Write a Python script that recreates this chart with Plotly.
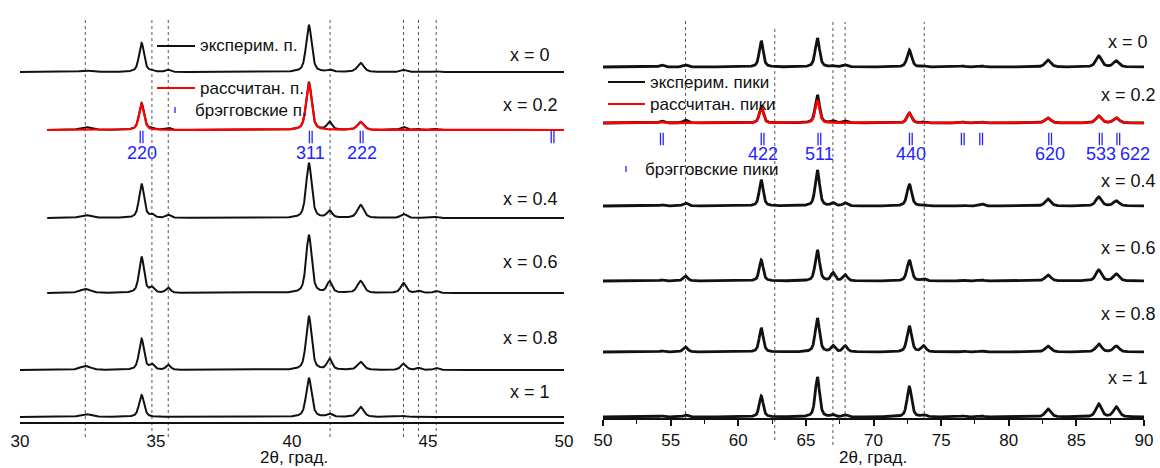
import numpy as np
import plotly.graph_objects as go

# ---------------- data ----------------
compositions = ["x = 0", "x = 0.2", "x = 0.4", "x = 0.6", "x = 0.8", "x = 1"]

# 30–50° range: observed reflections (2θ, deg) and their widths (FWHM, deg)
pos_low = [32.4, 34.47, 34.85, 35.45, 40.62, 41.38, 42.52, 44.1, 44.65, 45.3]
fwhm_low = [0.45, 0.22, 0.2, 0.2, 0.24, 0.22, 0.28, 0.24, 0.2, 0.2]
# peak heights (a.u.) per composition
h_low_x0 = [1.5, 29, 1, 2, 47, 2, 9, 2, 0, 1]
h_low_x02 = [3, 27, 2, 2, 48, 8, 8, 3, 1, 1]
h_low_x04 = [3, 34, 3, 3, 55, 7, 13, 4, 0, 1]
h_low_x06 = [4, 36, 5, 5, 58, 11, 12, 10, 2, 2]
h_low_x08 = [4, 31, 5, 5, 54, 11, 8, 6, 2, 2]
h_low_x1 = [3, 22, 0, 0, 39, 3, 10, 1, 0, 0]
# calculated profile for x = 0.2
h_low_calc = [0, 26, 0, 0, 47, 0, 8, 0, 0, 0]
# scanned interval start per composition (deg)
start_low = [30.0, 31.0, 31.0, 31.0, 30.0, 30.0]

# 50–90° range
pos_high = [54.35, 56.1, 61.7, 65.85, 67.0, 67.9, 72.65, 73.7, 76.6, 78.0, 82.9, 86.65, 87.95]
fwhm_high = [0.4, 0.4, 0.35, 0.38, 0.35, 0.4, 0.4, 0.4, 0.4, 0.4, 0.5, 0.5, 0.5]
h_high_x0 = [2, 2, 26, 29, 1, 2, 17, 1, 1, 1, 7, 11, 6]
h_high_x02 = [2, 3, 16, 28, 2, 2, 10, 1, 1, 1, 5, 7, 5]
h_high_x04 = [1, 3, 26, 36, 3, 3, 22, 1, 1, 2, 7, 9, 5]
h_high_x06 = [1, 5, 21, 31, 8, 6, 21, 2, 1, 1, 6, 11, 7]
h_high_x08 = [1, 5, 24, 34, 6, 6, 26, 6, 1, 1, 6, 8, 6]
h_high_x1 = [1, 2, 21, 40, 2, 2, 30, 2, 1, 1, 8, 13, 10]
h_high_calc = [1, 0, 15, 23, 0, 0, 10, 0, 1, 1, 5, 7, 5]

# Bragg positions and Miller indices
bragg_low = [34.47, 40.69, 42.56, 49.58]
hkl_low = ["220", "311", "222", ""]
bragg_high = [54.35, 61.8, 66.0, 72.76, 76.6, 77.96, 83.06, 86.8, 88.1]
hkl_high = ["", "422", "511", "440", "", "", "620", "533", "622"]

# phase-marker lines (2θ, deg)
marks_low = [32.4, 34.85, 35.45, 41.4, 44.1, 44.65, 45.3]
marks_high = [56.1, 62.7, 67.0, 67.9, 73.75]

heights_low = [h_low_x0, h_low_x02, h_low_x04, h_low_x06, h_low_x08, h_low_x1]
heights_high = [h_high_x0, h_high_x02, h_high_x04, h_high_x06, h_high_x08, h_high_x1]

# ---------------- layout ----------------
W, H = 1160, 468
BLACK, RED, BLUE = "#111111", "#ff0000", "#2424ff"
FONT = "Arial, Liberation Sans, sans-serif"

# stacking offsets (y units of each panel)
offset_low = [350, 292, 204, 129, 52, 5]
offset_high = [351, 295, 212, 137, 66, 1]
label_y_low = [55, 105, 199, 262, 338, 392]      # px from top
label_y_high = [42, 95, 181, 248, 314, 378]


def profile(x, pos, fwhm, heights, eta=0.55):
    y = np.zeros_like(x)
    for p, w, h in zip(pos, fwhm, heights):
        if h == 0:
            continue
        t = (x - p) / (w / 2.0)
        y += h * (eta / (1 + t * t) + (1 - eta) * np.exp(-np.log(2) * t * t))
    return y


def px(xpix):
    return xpix / W


def py(ypix):
    return 1 - ypix / H


def note(x, y, text, size, color=BLACK, xanchor="center", **kw):
    return dict(x=x, y=y, text=text, showarrow=False, xanchor=xanchor, yanchor="middle",
                font=dict(family=FONT, size=size, color=color), **kw)


fig = go.Figure()

# low-angle panel
for i, hs in enumerate(heights_low):
    x = np.arange(start_low[i], 50.0001, 0.01)
    fig.add_trace(go.Scatter(x=x, y=offset_low[i] + profile(x, pos_low, fwhm_low, hs),
                             mode="lines", line=dict(color=BLACK, width=2),
                             xaxis="x", yaxis="y", showlegend=False, hoverinfo="skip"))
    if i == 1:
        fig.add_trace(go.Scatter(x=x, y=offset_low[i] + profile(x, pos_low, fwhm_low, h_low_calc),
                                 mode="lines", line=dict(color=RED, width=2.2),
                                 xaxis="x", yaxis="y", showlegend=False, hoverinfo="skip"))

# high-angle panel
for i, hs in enumerate(heights_high):
    x = np.arange(50.0, 90.0001, 0.02)
    fig.add_trace(go.Scatter(x=x, y=offset_high[i] + profile(x, pos_high, fwhm_high, hs),
                             mode="lines", line=dict(color=BLACK, width=2.8),
                             xaxis="x2", yaxis="y2", showlegend=False, hoverinfo="skip"))
    if i == 1:
        fig.add_trace(go.Scatter(x=x, y=offset_high[i] + profile(x, pos_high, fwhm_high, h_high_calc),
                                 mode="lines", line=dict(color=RED, width=2.4),
                                 xaxis="x2", yaxis="y2", showlegend=False, hoverinfo="skip"))

# Bragg markers (doublets)
tick_y_low, tick_y_high = 285, 279
hkl_y_low, hkl_y_high = 269, 264
for sep, xa, ya, br, ty in [(0.1, "x", "y", bragg_low, tick_y_low),
                            (0.2, "x2", "y2", bragg_high, tick_y_high)]:
    for s in (-sep / 2, sep / 2):
        fig.add_trace(go.Scatter(x=[b + s for b in br], y=[ty] * len(br), mode="markers",
                                 marker=dict(symbol="line-ns", size=9,
                                             line=dict(color=BLUE, width=1.3)),
                                 xaxis=xa, yaxis=ya, showlegend=False, hoverinfo="skip"))

annotations = []
for b, t in zip(bragg_low, hkl_low):
    if t:
        annotations.append(note(b, hkl_y_low, t, 18, BLUE, xref="x", yref="y"))
hkl_shift_high = {"622": 17}
for b, t in zip(bragg_high, hkl_high):
    if t:
        annotations.append(note(b, hkl_y_high, t, 18, BLUE, xref="x2", yref="y2",
                                xshift=hkl_shift_high.get(t, 0)))

# composition labels
for lbl, yl in zip(compositions, label_y_low):
    annotations.append(note(px(530), py(yl), lbl, 18, xref="paper", yref="paper"))
for lbl, yl in zip(compositions, label_y_high):
    annotations.append(note(px(1128), py(yl), lbl, 18, xref="paper", yref="paper"))

# axis titles
for xc in (294, 873):
    annotations.append(note(px(xc), py(457), "2θ, град.", 17, xref="paper", yref="paper"))

# legends
shapes = []
legend_items = [
    # (line x0, line x1, y, colour, text x, text); x0 None -> single tick marker
    (157, 195, 46, BLACK, 198, "эксперим. п."),
    (157, 195, 88, RED, 198, "рассчитан. п."),
    (None, 175, 110, BLUE, 193, "брэгговские п."),
    (608, 645, 82, BLACK, 648, "эксперим. пики"),
    (608, 645, 104, RED, 648, "рассчитан. пики"),
    (None, 626, 169, BLUE, 643, "брэгговские пики"),
]
for x0, x1, yl, col, tx, txt in legend_items:
    if x0 is not None:
        shapes.append(dict(type="line", xref="paper", yref="paper", x0=px(x0), x1=px(x1),
                           y0=py(yl), y1=py(yl), line=dict(color=col, width=2)))
    else:
        shapes.append(dict(type="line", xref="paper", yref="paper", x0=px(x1), x1=px(x1),
                           y0=py(yl - 3), y1=py(yl + 3), line=dict(color=col, width=1.3)))
    annotations.append(note(px(tx), py(yl), txt, 17, xanchor="left", xref="paper", yref="paper"))

# dotted marker lines
for m in marks_low:
    shapes.append(dict(type="line", xref="x", yref="paper", x0=m, x1=m, y0=py(437), y1=py(17),
                       line=dict(color="#555555", width=1, dash="dot"), layer="below"))
high_ext = [(20, 420), (28, 440), (20, 445), (22, 420), (22, 420)]
for m, (t, b) in zip(marks_high, high_ext):
    shapes.append(dict(type="line", xref="x2", yref="paper", x0=m, x1=m, y0=py(b), y1=py(t),
                       line=dict(color="#555555", width=1, dash="dot"), layer="below"))

axis_font = dict(family=FONT, size=17, color=BLACK)
fig.update_layout(
    width=W, height=H, margin=dict(l=0, r=0, t=0, b=0),
    paper_bgcolor="white", plot_bgcolor="white",
    xaxis=dict(domain=[px(20), px(564)], range=[30, 50], anchor="y",
               tickvals=[30, 35, 40, 45, 50], showgrid=False, zeroline=False,
               showline=True, linecolor=BLACK, linewidth=2, automargin=False,
               ticks="outside", ticklen=3, tickcolor="rgba(0,0,0,0)", tickfont=axis_font),
    yaxis=dict(domain=[1 - 422 / H, 1], range=[0, 422], visible=False),
    xaxis2=dict(domain=[px(603), px(1144)], range=[50, 90], anchor="y2",
                tickvals=[50, 55, 60, 65, 70, 75, 80, 85, 90], showgrid=False, zeroline=False,
                showline=True, linecolor=BLACK, linewidth=2, automargin=False,
                ticks="outside", ticklen=6, tickwidth=1.5, tickcolor=BLACK, tickfont=axis_font,
                minor=dict(dtick=2.5, tick0=50, ticks="outside", ticklen=4, tickwidth=1.2,
                           tickcolor=BLACK)),
    yaxis2=dict(domain=[1 - 418 / H, 1], range=[0, 418], visible=False),
    annotations=annotations, shapes=shapes,
)

fig.write_html("out.html")
